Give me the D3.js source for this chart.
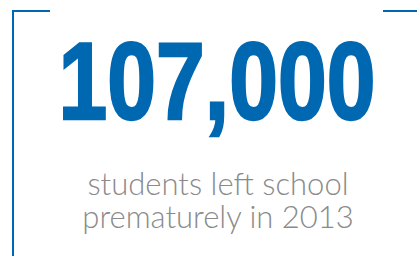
<!DOCTYPE html>
<html>
<head>
<meta charset="utf-8">
<script src="https://cdn.jsdelivr.net/npm/d3@7"></script>
<style>
  html, body { margin: 0; padding: 0; background: #fff; }
  svg { display: block; }
</style>
</head>
<body>
<svg id="chart"></svg>
<script>
// the figure and its caption
let headline = [107000]
let captionLines = ['students left school', 'prematurely in 2013']

let width = 417
let height = 256
let blue = '#0067b1'
let grey = '#8a8a8a'

let svg = d3.select('#chart')
    .attr('width', width)
    .attr('height', height)

// bracket frame: left corner goes all the way down, right corner is just a stub
let frame = svg.append('g')
    .attr('fill', 'none')
    .attr('stroke', blue)
    .attr('stroke-width', 2)

frame.append('path')
    .attr('d', 'M50,11 H13 V256')
frame.append('path')
    .attr('d', 'M383,11 H417')

// big number, squeezed + lightly stroked to look like a heavy condensed face
let fmt = d3.format(',')
svg.selectAll('text.big')
    .data(headline)
    .enter()
    .append('text')
    .attr('class', 'big')
    .attr('x', 58.5)
    .attr('y', 119)
    .attr('textLength', 317)
    .attr('lengthAdjust', 'spacingAndGlyphs')
    .attr('fill', blue)
    .attr('stroke', blue)
    .attr('stroke-width', 2.5)
    .style('font-family', "Arial, 'Liberation Sans', sans-serif")
    .style('font-weight', 'bold')
    .style('font-size', '110px')
    .text((d) => fmt(d))

// caption, one line per band (band bottom = baseline)
let yScale = d3.scaleBand()
    .domain(captionLines)
    .range([162, 228])

svg.selectAll('text.caption')
    .data(captionLines)
    .enter()
    .append('text')
    .attr('class', 'caption')
    .attr('x', 218)
    .attr('y', (d) => yScale(d) + yScale.bandwidth())
    .attr('text-anchor', 'middle')
    .attr('fill', grey)
    .style('font-family', "'Lato', 'Open Sans', sans-serif")
    .style('font-weight', 300)
    .style('font-size', '31px')
    .text((d) => d)
</script>
</body>
</html>
